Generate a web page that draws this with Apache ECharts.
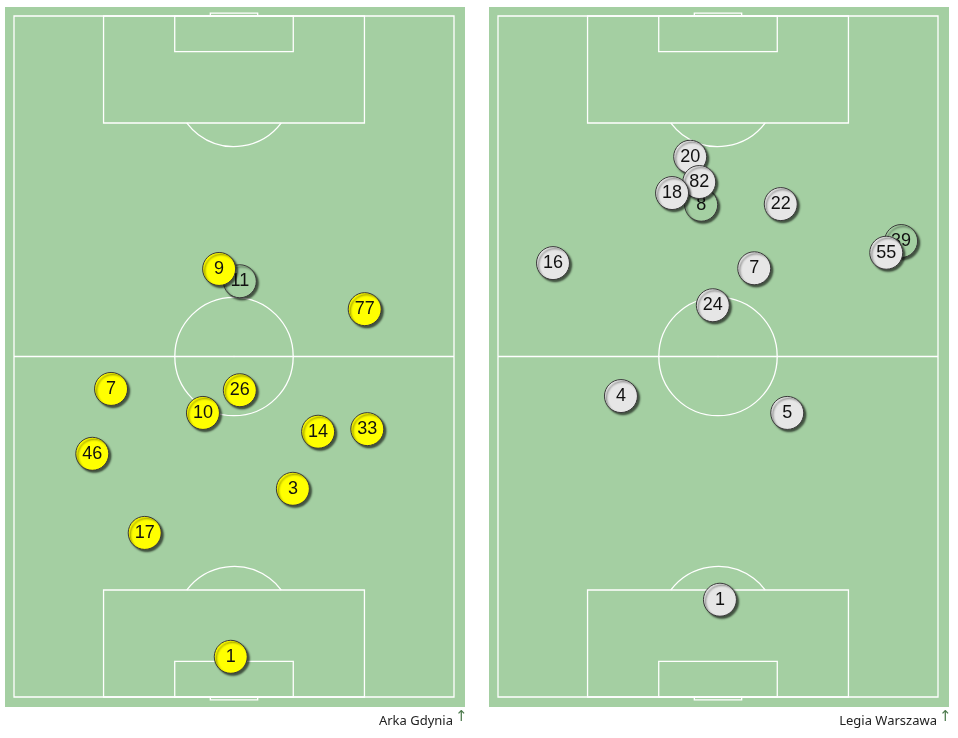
<!DOCTYPE html>
<html><head><meta charset="utf-8">
<script src="https://cdn.jsdelivr.net/npm/echarts@6/dist/echarts.min.js"></script>
<style>html,body{margin:0;padding:0;background:#fff}#c{width:958px;height:738px}</style>
</head><body><div id="c"></div>
<script>
// Pitch size in metres
const pitchWidth = 68, pitchLength = 105;

// Arka Gdynia (yellow)
const homeTeam = 'Arka Gdynia';
const homeNumbers = ['9','77','7','26','10','14','33','46','3','17','1'];
const homeX = [31.7, 54.2, 15.0, 34.9, 29.2, 47.0, 54.6, 12.1, 43.1, 20.2, 33.5];
const homeY = [66.0, 59.8, 47.5, 47.3, 43.8, 40.9, 41.3, 37.5, 32.1, 25.3, 6.2];
const homeSubNumbers = ['11'];
const homeSubX = [34.9];
const homeSubY = [64.1];

// Legia Warszawa (grey)
const awayTeam = 'Legia Warszawa';
const awayNumbers = ['20','82','18','22','55','16','7','24','4','5','1'];
const awayX = [29.7, 31.1, 26.9, 43.7, 60.0, 8.5, 39.6, 33.2, 19.0, 44.7, 34.3];
const awayY = [83.3, 79.4, 77.7, 76.0, 68.5, 66.9, 66.1, 60.4, 46.4, 43.8, 15.0];
const awaySubNumbers = ['8','39'];
const awaySubX = [31.4, 62.3];
const awaySubY = [75.9, 70.3];

const GREEN = '#a4cfa2';
const chart = echarts.init(document.getElementById('c'));

function renderPitch(params, api){
  const p = (x,y) => api.coord([x,y]);
  const st = {stroke:'#fff', lineWidth:1.3, fill:null};
  const ch = [];
  const rect = (x1,y1,x2,y2) => { const a=p(x1,y1), b=p(x2,y2);
    ch.push({type:'rect', shape:{x:Math.min(a[0],b[0]), y:Math.min(a[1],b[1]), width:Math.abs(b[0]-a[0]), height:Math.abs(b[1]-a[1])}, style:st}); };
  const line = (x1,y1,x2,y2) => { const a=p(x1,y1), b=p(x2,y2);
    ch.push({type:'line', shape:{x1:a[0],y1:a[1],x2:b[0],y2:b[1]}, style:st}); };
  const W = pitchWidth, L = pitchLength, cx = W/2;
  const rpx = p(cx+9.15, 0)[0] - p(cx, 0)[0];
  rect(0,0,W,L);
  line(0,L/2,W,L/2);
  const c = p(cx, L/2);
  ch.push({type:'circle', shape:{cx:c[0], cy:c[1], r:rpx}, style:st});
  ch.push({type:'circle', shape:{cx:c[0], cy:c[1], r:0.8}, style:{fill:'#fff'}});
  // boxes
  rect(cx-20.16, L, cx+20.16, L-16.5);
  rect(cx-9.16, L, cx+9.16, L-5.5);
  rect(cx-20.16, 0, cx+20.16, 16.5);
  rect(cx-9.16, 0, cx+9.16, 5.5);
  // goals
  rect(cx-3.66, L, cx+3.66, L+0.45);
  rect(cx-3.66, 0, cx+3.66, -0.45);
  // arcs
  const th = Math.acos(5.5/9.15);
  const t = p(cx, L-11), b = p(cx, 11);
  ch.push({type:'arc', shape:{cx:t[0], cy:t[1], r:rpx, startAngle:Math.PI/2-th, endAngle:Math.PI/2+th}, style:st});
  ch.push({type:'arc', shape:{cx:b[0], cy:b[1], r:rpx, startAngle:3*Math.PI/2-th, endAngle:3*Math.PI/2+th}, style:st});
  return {type:'group', children:ch};
}

function playerSeries(idx, nums, xs, ys, fill, z){
  return {
    type:'scatter', xAxisIndex:idx, yAxisIndex:idx, z:z,
    data: nums.map((n,i)=>({value:[xs[i], ys[i]], name:n})),
    symbol:'circle', symbolSize:33,
    itemStyle:{color:fill, borderColor:'#3a3a3a', borderWidth:1, shadowColor:'rgba(0,0,0,0.6)', shadowBlur:2, shadowOffsetX:2, shadowOffsetY:2, opacity:1},
    label:{show:true, position:'inside', formatter:'{b}', color:'#111', fontSize:18, fontFamily:'Liberation Sans, Arial, sans-serif'},
    emphasis:{disabled:true}, animation:false
  };
}

const axisCommon = {show:false, splitLine:{show:false}};
chart.setOption({
  animation:false,
  graphic:[
    {type:'rect', left:5, top:7, shape:{width:460, height:700}, style:{fill:GREEN}, z:-10},
    {type:'rect', left:489, top:7, shape:{width:460, height:700}, style:{fill:GREEN}, z:-10},
    {type:'text', right:505, top:715, style:{text:homeTeam, fill:'#222', font:'13px "Noto Sans", Lato, sans-serif'}},
    {type:'text', left:455, top:710, style:{text:'↑', fill:'#4d7a4d', font:'15px "DejaVu Sans", sans-serif'}},
    {type:'text', right:21, top:715, style:{text:awayTeam, fill:'#222', font:'13px "Noto Sans", Lato, sans-serif'}},
    {type:'text', left:939, top:710, style:{text:'↑', fill:'#4d7a4d', font:'15px "DejaVu Sans", sans-serif'}}
  ],
  grid:[
    {left:14, top:16, width:440, height:681},
    {left:498, top:16, width:440, height:681}
  ],
  xAxis:[
    Object.assign({type:'value', gridIndex:0, min:0, max:pitchWidth}, axisCommon),
    Object.assign({type:'value', gridIndex:1, min:0, max:pitchWidth}, axisCommon)
  ],
  yAxis:[
    Object.assign({type:'value', gridIndex:0, min:0, max:pitchLength}, axisCommon),
    Object.assign({type:'value', gridIndex:1, min:0, max:pitchLength}, axisCommon)
  ],
  series:[
    {type:'custom', xAxisIndex:0, yAxisIndex:0, data:[0], renderItem:renderPitch, z:1, silent:true, clip:false},
    {type:'custom', xAxisIndex:1, yAxisIndex:1, data:[0], renderItem:renderPitch, z:1, silent:true, clip:false},
    playerSeries(0, homeSubNumbers, homeSubX, homeSubY, GREEN, 2),
    playerSeries(0, homeNumbers, homeX, homeY, '#ffff00', 3),
    playerSeries(1, awaySubNumbers, awaySubX, awaySubY, GREEN, 2),
    playerSeries(1, awayNumbers, awayX, awayY, '#e6e6e6', 3)
  ]
});
</script>
</body></html>
